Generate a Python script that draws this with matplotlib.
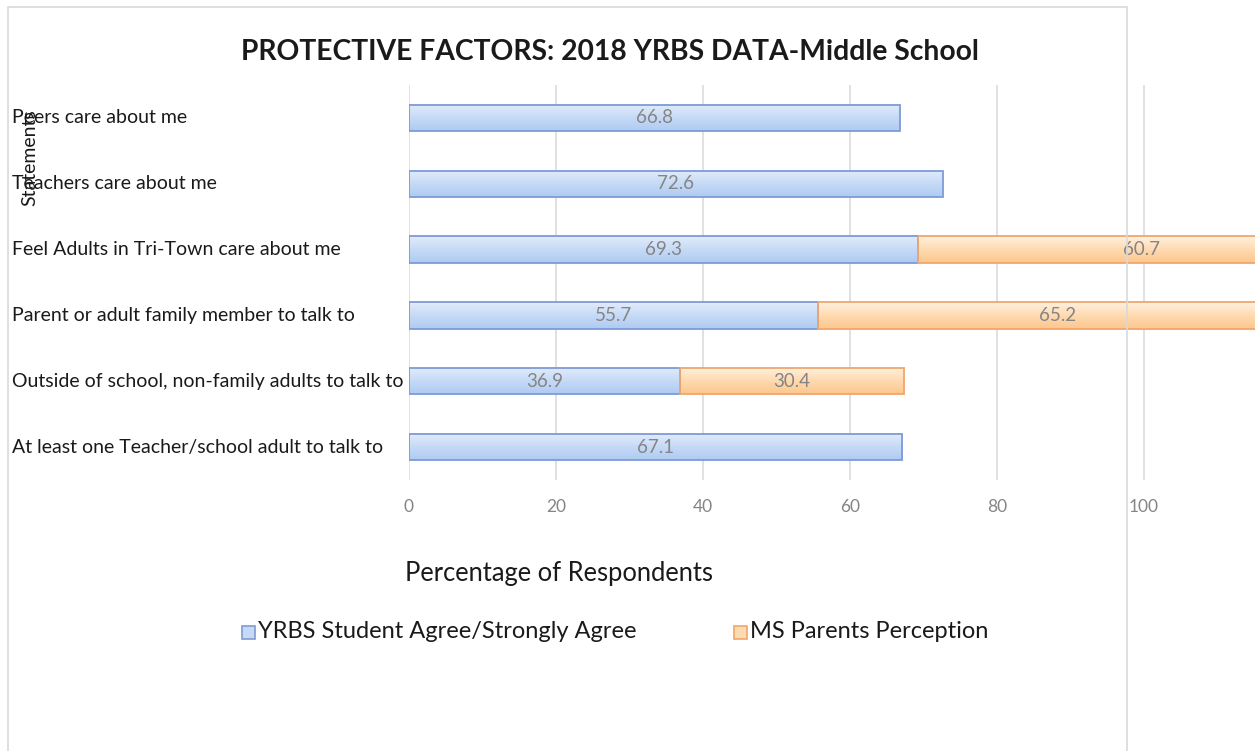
import numpy as np
import matplotlib
matplotlib.use("Agg")
import matplotlib.pyplot as plt
from matplotlib import transforms
from matplotlib.colors import LinearSegmentedColormap
from matplotlib.patches import Rectangle

plt.rcParams['font.family'] = ['Lato', 'DejaVu Sans']

statements = [
    "Peers care about me",
    "Teachers care about me",
    "Feel Adults in Tri-Town care about me",
    "Parent or adult family member to talk to",
    "Outside of school, non-family adults to talk to",
    "At least one Teacher/school adult to talk to",
]
students = [66.8, 72.6, 69.3, 55.7, 36.9, 67.1]
parents = [0, 0, 60.7, 65.2, 30.4, 0]
series_names = ["YRBS Student Agree/Strongly Agree", "MS Parents Perception"]
xticks = [0, 20, 40, 60, 80, 100]

W, H = 1255, 751
fig = plt.figure(figsize=(W / 100, H / 100), dpi=100)
ax = fig.add_axes([409 / W, 1 - 480 / H, 1 - 409 / W, (480 - 85) / H])

# chart border (open at the bottom)
fig.patches.append(Rectangle((8 / W, -0.05), (1127 - 8) / W, 1.05 - 7 / H,
                             transform=fig.transFigure, fill=False,
                             edgecolor='#d9d9d9', linewidth=1.2, zorder=0))

blue_cmap = LinearSegmentedColormap.from_list('b', ['#e2ecfb', '#c6daf6', '#afcbf3'])
orange_cmap = LinearSegmentedColormap.from_list('o', ['#fff1e0', '#fedab0', '#fcc78d'])
grad = np.linspace(0, 1, 64).reshape(-1, 1)

y = np.arange(len(statements))
h = 0.4


def gradient_bars(bars, cmap, edge):
    for p in bars:
        if p.get_width() <= 0:
            p.set_visible(False)
            continue
        p.set_facecolor('none')
        p.set_edgecolor(edge)
        p.set_linewidth(1.3)
        p.set_zorder(3)
        x0, y0 = p.get_x(), p.get_y()
        im = ax.imshow(grad, extent=(x0, x0 + p.get_width(), y0 + p.get_height(), y0),
                       aspect='auto', cmap=cmap, interpolation='bicubic', zorder=2)
        im.set_clip_path(p)


b1 = ax.barh(y, students, height=h)
b2 = ax.barh(y, parents, left=students, height=h)
gradient_bars(b1, blue_cmap, '#7d9bd6')
gradient_bars(b2, orange_cmap, '#f0a66c')

for i in range(len(y)):
    ax.text(students[i] / 2, y[i], f"{students[i]:.1f}", ha='center', va='center',
            fontsize=13.5, color='#858585', zorder=4)
    if parents[i] > 0:
        ax.text(students[i] + parents[i] / 2, y[i], f"{parents[i]:.1f}", ha='center',
                va='center', fontsize=13.5, color='#858585', zorder=4)

ax.set_xlim(0, (W - 409) / 7.35)
ax.set_ylim(len(y) - 0.5, -0.5)
ax.set_xticks(xticks)
ax.set_xticklabels([str(t) for t in xticks], color='#858585', fontsize=12.5)
ax.tick_params(axis='x', length=0, pad=14)
ax.set_yticks([])
ax.grid(axis='x', color='#d9d9d9', linewidth=1.1, zorder=0)
ax.set_axisbelow(True)
for s in ax.spines.values():
    s.set_visible(False)
ax.patch.set_alpha(0)

# category labels, left aligned at the chart edge
trans = transforms.blended_transform_factory(fig.transFigure, ax.transData)
for i, lab in enumerate(statements):
    fig.text(12 / W, y[i], lab, transform=trans, ha='left', va='center',
             fontsize=14, color='#1a1a1a')

fig.text(30 / W, 1 - 158 / H, "Statements", rotation=90, ha='center', va='center',
         fontsize=14, color='#1a1a1a')
fig.text(610 / W, 1 - 52 / H, "PROTECTIVE FACTORS: 2018 YRBS DATA-Middle School",
         ha='center', va='center', fontsize=20.3, fontweight='bold', color='#1a1a1a')
fig.text(559 / W, 1 - 573 / H, "Percentage of Respondents", ha='center', va='center',
         fontsize=18.4, color='#1a1a1a')

# legend
for xs, name, cmap, edge in [(249, series_names[0], blue_cmap, '#7d9bd6'),
                             (741, series_names[1], orange_cmap, '#f0a66c')]:
    fig.patches.append(Rectangle(((xs - 7) / W, 1 - 639 / H), 13 / W, 13 / H,
                                 transform=fig.transFigure, facecolor=cmap(0.5),
                                 edgecolor=edge, linewidth=1.2))
    fig.text((xs + 9) / W, 1 - 632 / H, name, ha='left', va='center',
             fontsize=17, color='#1a1a1a')

fig.savefig("out.png", dpi=100)
